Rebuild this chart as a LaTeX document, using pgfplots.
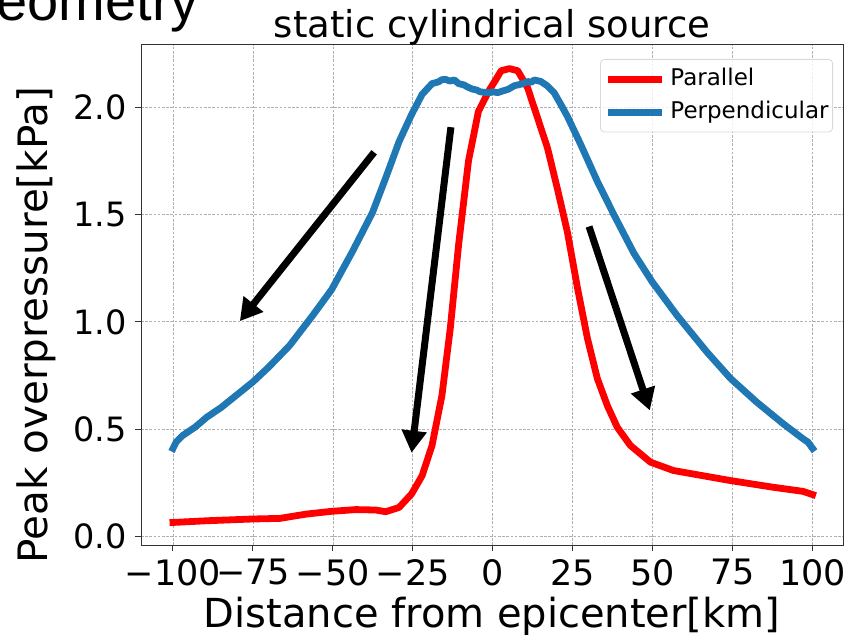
\documentclass[border=0pt]{standalone}
\usepackage{fontspec}
\setmainfont{DejaVu Sans}
\newfontfamily\slidefont{Liberation Sans}
\usepackage{pgfplots}
\pgfplotsset{compat=1.18}
\usetikzlibrary{arrows.meta}
\definecolor{mplblue}{HTML}{1F77B4}
\definecolor{gridgray}{HTML}{B0B0B0}
\begin{document}
\begin{tikzpicture}
\useasboundingbox (0pt,0pt) rectangle (848pt,634pt);
\node[anchor=base east, inner sep=0pt, font=\slidefont\fontsize{56}{60}\selectfont] at (199pt,613pt) {Geometry};
\begin{axis}[
  at={(141pt,89pt)}, anchor=south west,
  scale only axis, width=702pt, height=500pt,
  xmin=-110, xmax=109.5, ymin=-0.04, ymax=2.29,
  xtick={-100,-75,-50,-25,0,25,50,75,100},
  xticklabels={{−100},{−75},{−50},{−25},0,25,50,75,100},
  ytick={0,0.5,1.0,1.5,2.0},
  yticklabels={0.0,0.5,1.0,1.5,2.0},
  tick pos=left, tick align=outside, major tick length=6pt,
  major tick style={black!80, line width=1pt},
  axis line style={black!80, line width=1pt},
  grid=major,
  grid style={gridgray, line width=0.7pt, dash pattern=on 2.6pt off 1.6pt},
  ticklabel style={inner sep=0pt},
  xticklabel style={font=\fontsize{35}{42}\selectfont, anchor=north, yshift=-8pt},
  yticklabel style={font=\fontsize{33.5}{40}\selectfont, anchor=east, xshift=-8pt},
  title={static cylindrical source},
  title style={font=\fontsize{37}{44}\selectfont, at={(axis description cs:0.5,1)}, anchor=base, yshift=1.5pt, inner sep=0pt},
  xlabel={Distance from epicenter[km]},
  xlabel style={font=\fontsize{40}{48}\selectfont, at={(axis description cs:0.5,0)}, anchor=base, yshift=-82pt, inner sep=0pt},
  ylabel={Peak overpressure[kPa]},
  ylabel style={font=\fontsize{40.5}{48}\selectfont, at={(axis description cs:-0.1325,0.44)}, anchor=base, inner sep=0pt},
  legend cell align=left,
  legend image code/.code={\draw[#1, line width=7pt, line cap=butt] (0pt,0pt) -- (54pt,0pt);},
  legend style={at={(axis description cs:1,1)}, anchor=north east, xshift=-10pt, yshift=-14pt,
    font=\fontsize{23}{27}\selectfont, draw=black!15, line width=0.8pt, rounded corners=4pt,
    fill=white, fill opacity=0.8, text opacity=1,
    inner xsep=4pt, inner ysep=9pt, row sep=10.7pt, column sep=5pt,
    nodes={inner sep=0pt, text height=17pt, text depth=5pt}},
]
\addplot[red, line width=6.8pt, line join=round, line cap=rect] coordinates {
(-100,0.065) (-89.4,0.073) (-75.4,0.081) (-66.6,0.084) (-58.3,0.104) (-50.4,0.117)
(-42.8,0.125) (-36.6,0.123) (-33.5,0.115) (-29.3,0.135) (-25.4,0.198) (-22.1,0.283)
(-19,0.424) (-15.9,0.657) (-13.3,0.969) (-10.7,1.358) (-7.6,1.75) (-4.5,1.98)
(-1.3,2.075) (1,2.13) (2.6,2.17) (5.2,2.18) (7.8,2.17) (10.9,2.09) (14,1.95)
(17.1,1.81) (20.2,1.62) (23.3,1.42) (26.5,1.156) (29.6,0.922) (32.7,0.735)
(35.8,0.61) (38.9,0.509) (43,0.424) (49.3,0.346) (56.5,0.307) (74.4,0.26)
(87.7,0.229) (97,0.21) (100,0.195)
};
\addlegendentry{Parallel}
\addplot[mplblue, line width=6.8pt, line join=round, line cap=rect] coordinates {
(-100,0.41) (-99,0.44) (-97,0.47) (-93,0.51) (-89.4,0.556) (-85,0.60) (-80,0.66)
(-75,0.72) (-70,0.79) (-63.5,0.89) (-56.3,1.03) (-50.4,1.15) (-43.8,1.33)
(-37.6,1.51) (-33.5,1.67) (-29.3,1.84) (-25.4,1.966) (-22.1,2.06) (-19,2.11)
(-17,2.118) (-16,2.128) (-14.8,2.13) (-13.5,2.122) (-12,2.127) (-10.7,2.11)
(-9,2.104) (-8,2.095) (-6.5,2.085) (-5,2.08) (-4,2.072) (-1.3,2.067) (0,2.072)
(1.5,2.068) (3.6,2.078) (5,2.085) (6.7,2.10) (9,2.108) (10.9,2.12) (12,2.116)
(13,2.127) (15,2.12) (17,2.10) (19.2,2.067) (21,2.02) (23.3,1.958) (27.5,1.826)
(32.7,1.654) (37.9,1.498) (44.1,1.32) (49.8,1.187) (57.6,1.03) (66.9,0.86)
(74.4,0.735) (82.5,0.626) (90.8,0.525) (97,0.455) (98.5,0.44) (100,0.41)
};
\addlegendentry{Perpendicular}
\draw[line width=7pt, -{Triangle[length=22pt,width=24pt]}] (axis cs:-37.1,1.79) -- (axis cs:-79.1,1.003);
\draw[line width=7pt, -{Triangle[length=22pt,width=24pt]}] (axis cs:-13.1,1.907) -- (axis cs:-25.4,0.39);
\draw[line width=7pt, -{Triangle[length=22pt,width=24pt]}] (axis cs:30.1,1.444) -- (axis cs:49.1,0.587);
\end{axis}
\end{tikzpicture}
\end{document}
